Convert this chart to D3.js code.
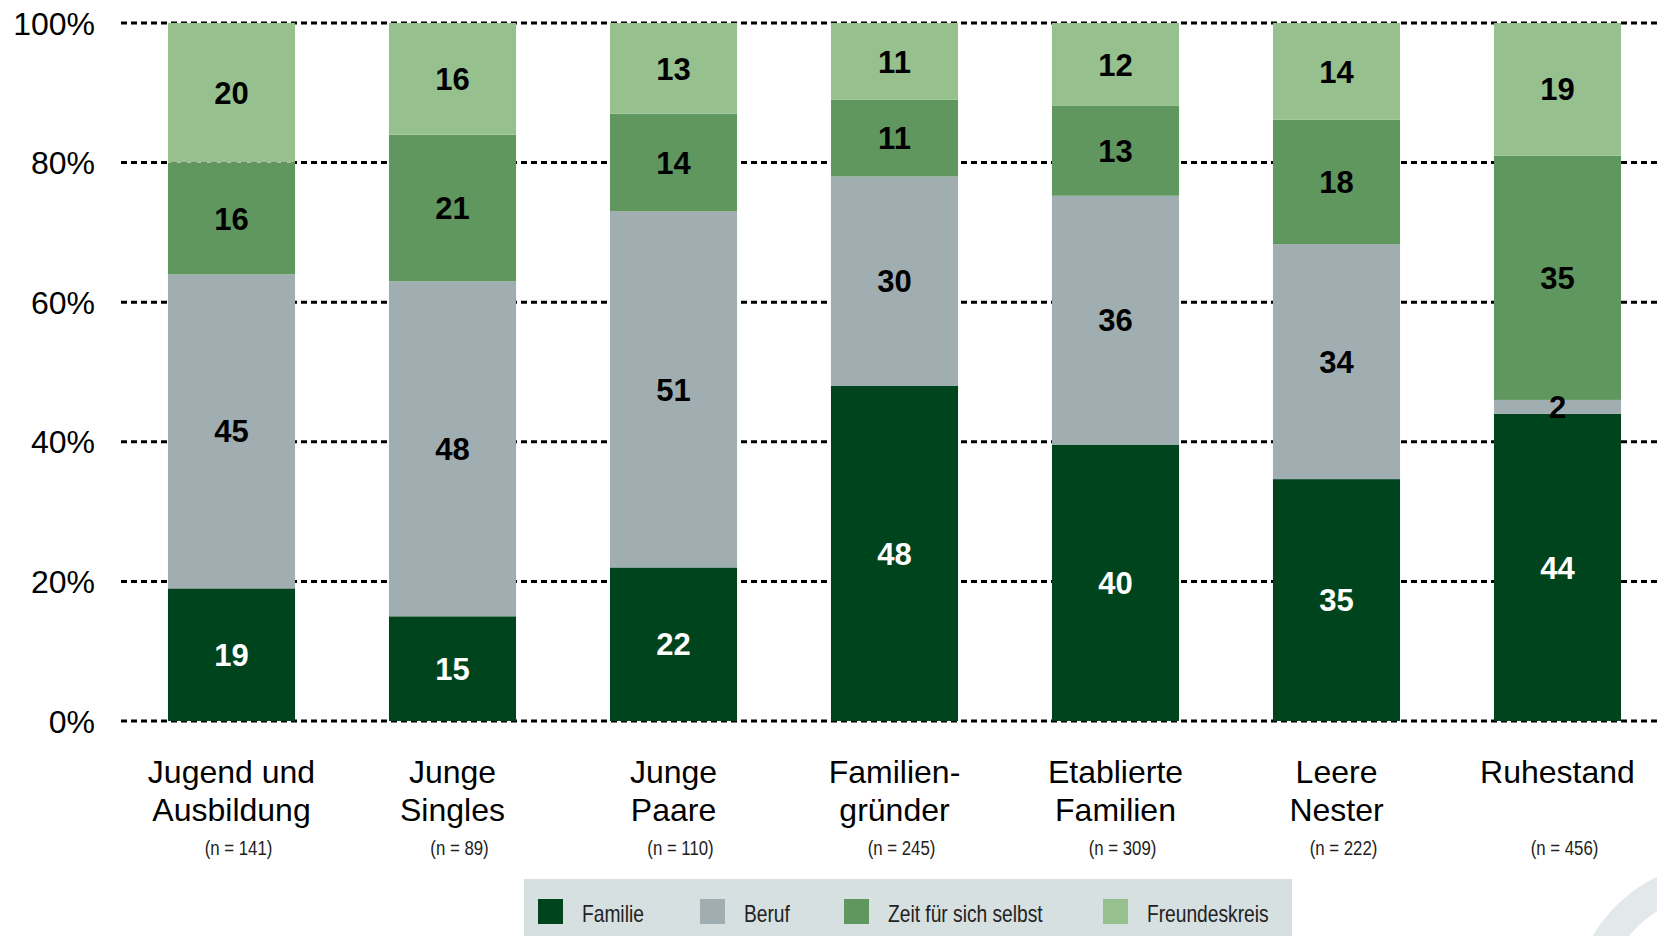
<!DOCTYPE html>
<html>
<head>
<meta charset="utf-8">
<script src="https://cdn.jsdelivr.net/npm/d3@7"></script>
<style>
  html, body { margin: 0; padding: 0; background: #fff; }
  svg { display: block; }
</style>
</head>
<body>
<script>
var width = 1657,
  height = 936;

// data (Angaben in %)
var categories = ["Jugend und Ausbildung", "Junge Singles", "Junge Paare", "Familiengründer",
  "Etablierte Familien", "Leere Nester", "Ruhestand"];
var categoryLines = [["Jugend und", "Ausbildung"], ["Junge", "Singles"], ["Junge", "Paare"],
  ["Familien-", "gründer"], ["Etablierte", "Familien"], ["Leere", "Nester"], ["Ruhestand"]];
var sampleSizes = [141, 89, 110, 245, 309, 222, 456];
var seriesNames = ["Familie", "Beruf", "Zeit für sich selbst", "Freundeskreis"];
var familie = [19, 15, 22, 48, 40, 35, 44];
var beruf = [45, 48, 51, 30, 36, 34, 2];
var zeit = [16, 21, 14, 11, 13, 18, 35];
var freunde = [20, 16, 13, 11, 12, 14, 19];
var yTicks = [0, 0.2, 0.4, 0.6, 0.8, 1];

var colors = ["#00441e", "#a0aeb1", "#5f975f", "#97c08f"];
var labelColors = ["#fff", "#000", "#000", "#000"];
var narrow = 0.8; // squeeze for the condensed texts (no narrow font installed)

var series = [familie, beruf, zeit, freunde];
var rows = categories.map(function (c, i) {
  var r = { cat: c };
  seriesNames.forEach(function (s, j) { r[s] = series[j][i]; });
  return r;
});

var stack = d3.stack().keys(seriesNames).offset(d3.stackOffsetExpand);
var layers = stack(rows);

var x = d3.scaleBand()
  .domain(categories)
  .range([121, 1668])
  .paddingInner(0.425)
  .paddingOuter(0.2125);

var y = d3.scaleLinear()
  .domain([0, 1])
  .range([721, 23]);

var svg = d3.select("body").append("svg")
  .attr("width", width)
  .attr("height", height)
  .attr("viewBox", "0 0 " + width + " " + height);

// decorative ring bottom right
svg.append("path")
  .attr("transform", "translate(1722,1012)")
  .attr("d", d3.arc()({ innerRadius: 120, outerRadius: 150, startAngle: -Math.PI * 0.6, endAngle: 0 }))
  .attr("fill", "#e3e8ea");

// grid lines + y labels
var grid = svg.append("g");
grid.selectAll("line")
  .data(yTicks)
  .join("line")
  .attr("x1", 121)
  .attr("x2", width)
  .attr("y1", function (d) { return y(d); })
  .attr("y2", function (d) { return y(d); })
  .attr("stroke", "#000")
  .attr("stroke-width", 3)
  .attr("stroke-dasharray", "6,4");

grid.selectAll("text")
  .data(yTicks)
  .join("text")
  .attr("x", 95)
  .attr("y", function (d) { return y(d); })
  .attr("dy", "0.36em")
  .attr("text-anchor", "end")
  .attr("font-family", "Liberation Sans, Arial, sans-serif")
  .attr("font-size", 32)
  .text(function (d) { return Math.round(d * 100) + "%"; });

// bars
var g = svg.append("g");
layers.forEach(function (layer, j) {
  g.append("g")
    .attr("fill", colors[j])
    .selectAll("rect")
    .data(layer)
    .join("rect")
    .attr("x", function (d) { return x(d.data.cat); })
    .attr("width", x.bandwidth())
    .attr("y", function (d) { return y(d[1]); })
    .attr("height", function (d) { return y(d[0]) - y(d[1]); });
});

// value labels
layers.forEach(function (layer, j) {
  g.append("g")
    .selectAll("text")
    .data(layer)
    .join("text")
    .attr("x", function (d) { return x(d.data.cat) + x.bandwidth() / 2; })
    .attr("y", function (d) { return y((d[0] + d[1]) / 2); })
    .attr("dy", "0.36em")
    .attr("text-anchor", "middle")
    .attr("font-family", "Liberation Sans, Arial, sans-serif")
    .attr("font-weight", "bold")
    .attr("font-size", 31)
    .attr("fill", labelColors[j])
    .text(function (d) { return d.data[layer.key]; });
});

// category labels
var cats = svg.append("g");
categories.forEach(function (c, i) {
  var cx = x(c) + x.bandwidth() / 2;
  var t = cats.append("text")
    .attr("text-anchor", "middle")
    .attr("font-family", "Liberation Sans, Arial, sans-serif")
    .attr("font-size", 32);
  categoryLines[i].forEach(function (line, k) {
    t.append("tspan")
      .attr("x", cx)
      .attr("y", 783 + k * 38)
      .text(line);
  });
  cats.append("text")
    .attr("transform", "translate(" + (cx + 7) + ",855) scale(" + narrow + ",1)")
    .attr("text-anchor", "middle")
    .attr("font-family", "Liberation Sans, Arial, sans-serif")
    .attr("font-size", 21)
    .attr("fill", "#222")
    .text("(n = " + sampleSizes[i] + ")");
});

// legend
var legend = svg.append("g");
legend.append("rect")
  .attr("x", 524)
  .attr("y", 879)
  .attr("width", 768)
  .attr("height", 60)
  .attr("fill", "#d6e0e1");

var legendX = [538, 700, 844, 1103];
seriesNames.forEach(function (s, j) {
  legend.append("rect")
    .attr("x", legendX[j])
    .attr("y", 899)
    .attr("width", 25)
    .attr("height", 25)
    .attr("fill", colors[j]);
  legend.append("text")
    .attr("transform", "translate(" + (legendX[j] + 44) + ",913) scale(" + narrow + ",1)")
    .attr("dy", "0.36em")
    .attr("font-family", "Liberation Sans, Arial, sans-serif")
    .attr("font-size", 24)
    .attr("fill", "#222")
    .text(s);
});
</script>
</body>
</html>
